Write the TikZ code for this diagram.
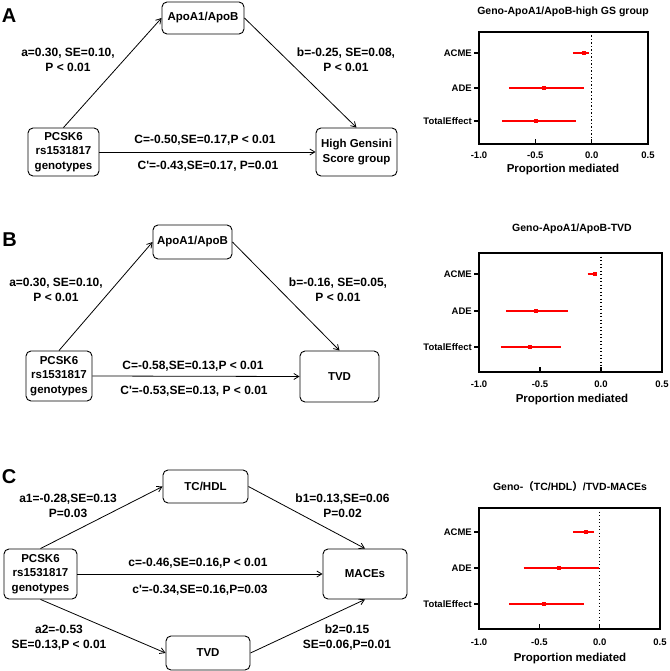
\documentclass[tikz,border=0pt]{standalone}
\usepackage{fontspec}
\setmainfont{Liberation Sans}
\newfontfamily\cjkfont{Noto Sans CJK SC}
\usetikzlibrary{arrows.meta}
\begin{document}
\begin{tikzpicture}[x=1pt,y=-1pt,
  box/.style={draw, rounded corners=5pt, line width=0.9pt, align=center,
    font=\fontsize{11.5}{14.5}\selectfont\bfseries, inner sep=0pt},
  lab/.style={align=center, font=\fontsize{12}{15}\selectfont\bfseries, inner sep=0pt},
  conn/.style={-{Straight Barb[length=5pt,width=6pt]}, line width=0.8pt},
  panel/.style={font=\fontsize{20}{20}\selectfont\bfseries, inner sep=0pt},
  ftitle/.style={font=\fontsize{10.5}{12}\selectfont\bfseries, inner sep=0pt},
  fxlab/.style={font=\fontsize{11.5}{13}\selectfont\bfseries, inner sep=0pt},
  fcat/.style={font=\fontsize{9.5}{11}\selectfont\bfseries, inner sep=0pt, anchor=east, xshift=-7pt},
  ftick/.style={font=\fontsize{9.5}{11}\selectfont\bfseries, inner sep=0pt},
  frame/.style={line width=1.5pt},
  zeroline/.style={line width=1.3pt, dash pattern=on 1.3pt off 2.2pt},
  ci/.style={red, line width=1.4pt},
  est/.style={red}
]
\useasboundingbox (0,0) rectangle (669,671);

% ================= Panel A =================
\node[panel] (LA) at (9,15.5) {A};
\node[box, minimum width=82pt, minimum height=32pt] (A1) at (203,18) {ApoA1/ApoB};
\node[box, minimum width=71pt, minimum height=48pt] (P1) at (63.5,152) {PCSK6\\rs1531817\\genotypes};
\node[box, minimum width=81pt, minimum height=48pt] (G1) at (356.5,152) {High Gensini\\Score group};
\draw[conn] (P1.north) -- (A1.west);
\draw[conn] (A1.east) -- (G1.north);
\draw[conn] (P1.east) -- (G1.west);
\node[lab] (Aa) at (68,59.5) {a=0.30, SE=0.10,\\P < 0.01};
\node[lab] (Ab) at (346,59.5) {b=-0.25, SE=0.08,\\P < 0.01};
\node[lab] (Ac) at (205,140) {C=-0.50,SE=0.17,P < 0.01};
\node[lab] (Acp) at (208,166) {C\textquotesingle=-0.43,SE=0.17, P=0.01};

% forest A
\node[ftitle] (FAt) at (563,12) {Geno-ApoA1/ApoB-high GS group};
\node[fxlab] (FAx) at (563,170) {Proportion mediated};
\begin{scope}[shift={(591.67pt,0pt)}, x=112.67pt]
  \draw[zeroline] (0,32) -- (0,144);
  \draw[frame] (-1,32) rectangle (0.5,144);
  \foreach \v/\t [count=\i] in {-1/-1.0,-0.5/-0.5,0/0.0,0.5/0.5}{
    \draw[frame] (\v,144) -- ++(0pt,5pt);
    \node[ftick] (FAk\i) at (\v,155) {\t};
  }
  \foreach \yy/\c/\lo/\hi/\m [count=\i] in {53/ACME/-0.166/-0.024/-0.068, 88/ADE/-0.734/-0.068/-0.423, 121/TotalEffect/-0.796/-0.139/-0.494}{
    \draw[frame] (-1,\yy) -- ++(-5pt,0pt);
    \node[fcat] (FAc\i) at (-1,\yy) {\c};
    \draw[ci] (\lo,\yy) -- (\hi,\yy);
    \fill[est] (\m,\yy) +(-2pt,-2pt) rectangle +(2pt,2pt);
  }
\end{scope}

% ================= Panel B =================
\node[panel] (LB) at (9.5,240) {B};
\node[box, minimum width=79pt, minimum height=34pt] (A2) at (192.5,242) {ApoA1/ApoB};
\node[box, minimum width=66pt, minimum height=50pt] (P2) at (59,376) {PCSK6\\rs1531817\\genotypes};
\node[box, minimum width=79pt, minimum height=51pt] (T2) at (339.5,376.5) {TVD};
\draw[conn] (P2.north) -- (A2.west);
\draw[conn] (A2.east) -- (T2.north);
\draw[conn] (P2.east) -- (T2.west);
\node[lab] (Ba) at (56,290) {a=0.30, SE=0.10,\\P < 0.01};
\node[lab] (Bb) at (338,290) {b=-0.16, SE=0.05,\\P < 0.01};
\node[lab] (Bc) at (193,366) {C=-0.58,SE=0.13,P < 0.01};
\node[lab] (Bcp) at (194,391) {C\textquotesingle=-0.53,SE=0.13, P < 0.01};

% forest B
\node[ftitle] (FBt) at (572,229) {Geno-ApoA1/ApoB-TVD};
\node[fxlab] (FBx) at (572,400) {Proportion mediated};
\begin{scope}[shift={(601pt,0pt)}, x=122pt]
  \draw[zeroline] (0,253) -- (0,372);
  \draw[frame] (-1,253) rectangle (0.5,372);
  \foreach \v/\t [count=\i] in {-1/-1.0,-0.5/-0.5,0/0.0,0.5/0.5}{
    \draw[frame] (\v,372) -- ++(0pt,5pt);
    \node[ftick] (FBk\i) at (\v,384) {\t};
  }
  \foreach \yy/\c/\lo/\hi/\m [count=\i] in {274/ACME/-0.11/-0.03/-0.05, 311/ADE/-0.78/-0.27/-0.53, 347/TotalEffect/-0.82/-0.33/-0.58}{
    \draw[frame] (-1,\yy) -- ++(-5pt,0pt);
    \node[fcat] (FBc\i) at (-1,\yy) {\c};
    \draw[ci] (\lo,\yy) -- (\hi,\yy);
    \fill[est] (\m,\yy) +(-2pt,-2pt) rectangle +(2pt,2pt);
  }
\end{scope}

% ================= Panel C =================
\node[panel] (LC) at (9,476.5) {C};
\node[box, minimum width=85pt, minimum height=33pt] (TC) at (205.5,486.5) {TC/HDL};
\node[box, minimum width=73pt, minimum height=50pt] (P3) at (40.5,574) {PCSK6\\rs1531817\\genotypes};
\node[box, minimum width=84pt, minimum height=50pt] (M3) at (365,574) {MACEs};
\node[box, minimum width=84pt, minimum height=34pt] (TV) at (208,653) {TVD};
\draw[conn] (P3.north) -- (TC.west);
\draw[conn] (TC.east) -- (M3.north);
\draw[conn] (P3.east) -- (M3.west);
\draw[conn] (P3.south) -- (TV.west);
\draw[conn] (TV.east) -- (M3.south);
\node[lab] (Ca1) at (68,505.5) {a1=-0.28,SE=0.13\\P=0.03};
\node[lab] (Cb1) at (342.5,505.5) {b1=0.13,SE=0.06\\P=0.02};
\node[lab] (Cc) at (198,563) {c=-0.46,SE=0.16,P < 0.01};
\node[lab] (Ccp) at (200,590) {c\textquotesingle=-0.34,SE=0.16,P=0.03};
\node[lab] (Ca2) at (59,638) {a2=-0.53\\SE=0.13,P < 0.01};
\node[lab] (Cb2) at (347,638) {b2=0.15\\SE=0.06,P=0.01};

% forest C
\node[ftitle] (FCt) at (570,487) {Geno-{\cjkfont （}TC/HDL{\cjkfont ）}/TVD-MACEs};
\node[fxlab] (FCx) at (570,659) {Proportion mediated};
\begin{scope}[shift={(599.7pt,0pt)}, x=120.7pt]
  \draw[zeroline] (0,508) -- (0,629);
  \draw[frame] (-1,508) rectangle (0.5,629);
  \foreach \v/\t [count=\i] in {-1/-1.0,-0.5/-0.5,0/0.0,0.5/0.5}{
    \draw[frame] (\v,629) -- ++(0pt,5pt);
    \node[ftick] (FCk\i) at (\v,642) {\t};
  }
  \foreach \yy/\c/\lo/\hi/\m [count=\i] in {532/ACME/-0.22/-0.05/-0.11, 568/ADE/-0.63/-0.005/-0.34, 604/TotalEffect/-0.75/-0.13/-0.46}{
    \draw[frame] (-1,\yy) -- ++(-5pt,0pt);
    \node[fcat] (FCc\i) at (-1,\yy) {\c};
    \draw[ci] (\lo,\yy) -- (\hi,\yy);
    \fill[est] (\m,\yy) +(-2pt,-2pt) rectangle +(2pt,2pt);
  }
\end{scope}
\end{tikzpicture}
\end{document}
